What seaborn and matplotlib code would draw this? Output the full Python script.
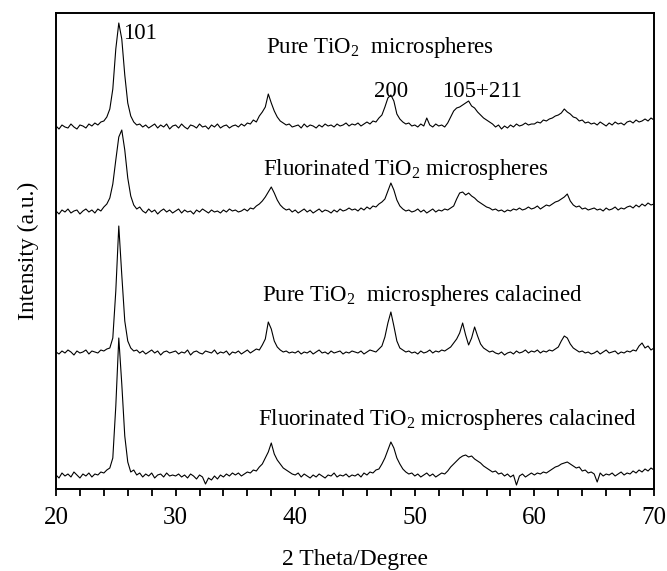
import numpy as np
import pandas as pd
import matplotlib
matplotlib.use("Agg")
import matplotlib.pyplot as plt
import seaborn as sns

# ---------------- data ----------------
two_theta = np.arange(20.0, 70.001, 0.25)   # sampling grid, degrees

pure = [
    1, -2, 2, 0, -1, 3, 0, -2, 2, 1, -1, 3, 1, 4, 2, 5, 6, 10, 18, 38,
    78, 104, 88, 52, 24, 11, 5, 2, 3, 0, 2, -1, 1, 3, -1, 2, 0, 3, -2, 1,
    2, -1, 3, 0, -2, 2, 1, -1, 3, 0, 1, -2, 2, 0, 3, -1, 1, 2, -1, 1,
    2, 0, 3, 1, 4, 3, 7, 5, 11, 15, 20, 33, 24, 16, 10, 6, 4, 2, 3, 0,
    1, 2, -1, 3, 0, 2, 1, -1, 2, 0, 3, 1, 2, 0, 3, 1, 2, 4, 1, 3,
    2, 4, 1, 3, 5, 3, 6, 5, 9, 12, 20, 29, 32, 26, 13, 8, 5, 3, 4, 1,
    2, 0, 3, 1, 9, 2, 0, 3, 1, 2, 0, 4, 10, 16, 19, 20, 22, 24, 26, 21,
    19, 15, 12, 9, 7, 5, 3, 0, 2, -2, 1, -1, 2, 0, 3, 1, 2, 4, 2, 3,
    3, 5, 4, 7, 6, 8, 9, 11, 12, 14, 18, 15, 13, 10, 9, 6, 7, 4, 5, 3,
    4, 2, 5, 3, 1, 4, 2, 5, 3, 4, 2, 5, 6, 4, 7, 5, 6, 8, 6, 9,
    7,
]

fluorinated = [
    1, -2, 2, 0, 3, -1, 1, 2, -2, 1, 3, 0, 2, -1, 3, 1, 5, 8, 14, 28,
    52, 75, 82, 62, 34, 16, 7, 3, 5, 1, -1, 3, 0, 2, -2, 1, 3, 0, 2, -1,
    1, 3, -1, 2, 0, 1, -2, 2, 0, 3, 1, -1, 2, 0, 1, -1, 2, 0, 3, 1,
    2, 0, 1, 3, 1, 4, 3, 6, 8, 11, 15, 20, 25, 19, 12, 7, 4, 2, 3, 0,
    2, -1, 1, 3, 0, 2, -1, 1, 3, 0, 2, 1, -1, 2, 0, 3, 1, 2, 4, 2,
    3, 1, 4, 2, 5, 3, 6, 5, 8, 10, 13, 21, 29, 22, 12, 6, 3, 1, 2, 0,
    1, 3, 0, 2, -1, 1, 3, 0, 2, 1, 3, 2, 4, 6, 13, 19, 20, 17, 19, 16,
    14, 11, 9, 7, 5, 4, 2, 3, 1, 2, 0, 2, 1, 3, 2, 4, 2, 3, 5, 3,
    4, 6, 3, 5, 7, 6, 8, 10, 11, 13, 15, 18, 11, 7, 5, 6, 3, 4, 2, 3,
    4, 2, 3, 1, 4, 2, 3, 5, 2, 4, 3, 5, 6, 4, 7, 5, 8, 6, 9, 7,
    8,
]

pure_calcined = [
    1, -1, 2, 0, 3, 1, -2, 2, 0, 1, 3, -1, 2, 1, 0, 3, 2, 4, 5, 15,
    62, 127, 78, 32, 12, 5, 2, 3, 0, 2, -1, 1, 3, 0, 2, -2, 1, 2, 0, 1,
    2, -1, 1, 0, 3, -2, 1, 2, 0, -1, 2, 1, 0, 3, -1, 1, 0, 2, -2, 1,
    0, 2, -1, 1, 3, 0, 2, 4, 3, 8, 14, 31, 24, 12, 6, 3, 1, 2, 0, 1,
    0, 2, -1, 1, 0, 2, -1, 1, 3, 0, 1, -1, 2, 0, 1, 2, -1, 1, 0, 2,
    1, 0, 2, -1, 1, 3, 2, 1, 4, 7, 16, 30, 41, 27, 12, 5, 3, 1, 2, 0,
    1, -1, 2, 0, 1, 3, 0, 2, 1, 3, 2, 4, 6, 10, 14, 20, 30, 18, 8, 15,
    26, 17, 9, 5, 3, 1, 2, 0, -1, 1, -2, 0, 1, -1, 2, 0, 1, 3, 0, 2,
    1, 3, 0, 2, 1, 3, 2, 4, 6, 12, 17, 15, 9, 5, 3, 1, 2, 0, 1, -1,
    0, 2, -1, 1, 3, 0, 1, 2, -1, 1, 0, 2, 1, 3, 2, 7, 10, 5, 7, 3,
    5,
]

fluorinated_calcined = [
    1, -2, 3, 0, 2, -1, 4, 1, -2, 2, 0, 3, -1, 2, 1, 4, 3, 6, 8, 18,
    70, 138, 92, 40, 14, 4, 6, 1, 3, -1, 2, 0, 3, -2, 1, 2, -1, 3, 0, 1,
    0, 2, -1, 1, -2, 2, 0, -3, 1, -1, -8, -2, -4, 0, -3, 1, -1, 2, 0, 3,
    1, 3, 0, 2, 4, 3, 6, 5, 9, 12, 18, 24, 33, 22, 16, 12, 8, 6, 4, 2,
    1, 3, -1, 2, 0, -2, 1, -1, 2, 0, -2, 1, 0, 3, -1, 1, 0, 2, -1, 1,
    0, 2, -1, 3, 1, 4, 3, 6, 7, 12, 18, 26, 34, 28, 18, 12, 7, 4, 2, 3,
    0, 2, -1, 1, 3, 0, 2, -1, 1, 3, 2, 5, 9, 12, 15, 18, 20, 21, 19, 20,
    17, 15, 13, 10, 8, 6, 4, 5, 2, 3, 0, 2, -1, 1, -9, 0, 2, -1, 1, 3,
    1, 3, 2, 4, 3, 5, 7, 9, 10, 12, 13, 14, 12, 10, 8, 9, 5, 6, 3, 4,
    2, -6, 3, 0, 2, 1, 3, 0, 2, 4, 1, 3, 2, 5, 3, 6, 4, 7, 5, 8,
    6,
]

series_names = [
    "Pure TiO$_\\mathregular{2}$  microspheres",
    "Fluorinated TiO$_\\mathregular{2}$ microspheres",
    "Pure TiO$_\\mathregular{2}$  microspheres calacined",
    "Fluorinated TiO$_\\mathregular{2}$ microspheres calacined",
]
series_values = [pure, fluorinated, pure_calcined, fluorinated_calcined]
stack_offsets = [362, 277, 136, 13]

label_x = [37.6, 37.3, 37.2, 36.9]
label_y = [436, 314, 188, 64]

peak_labels = ["101", "200", "105+211"]
peak_label_x = [25.6, 46.55, 52.25]
peak_label_y = [450, 392, 392]

x_ticks = [20, 30, 40, 50, 60, 70]

# ---------------- plotting ----------------
sns.set_theme(style="ticks")
plt.rcParams["font.family"] = ["Liberation Serif", "DejaVu Serif"]
plt.rcParams["mathtext.fontset"] = "custom"
plt.rcParams["mathtext.rm"] = "Liberation Serif"

fig = plt.figure(figsize=(6.67, 5.71), dpi=100)
ax = fig.add_axes([56 / 667, 82 / 571, 598 / 667, 476 / 571])

frames = []
for name, vals, off in zip(series_names, series_values, stack_offsets):
    frames.append(pd.DataFrame({"two_theta": two_theta,
                                "intensity": np.asarray(vals, float) + off,
                                "sample": name}))
df = pd.concat(frames, ignore_index=True)

sns.lineplot(data=df, x="two_theta", y="intensity", units="sample",
             estimator=None, color="black", linewidth=0.8, ax=ax,
             legend=False, sort=False)

for name, lx, ly in zip(series_names, label_x, label_y):
    ax.text(lx, ly, name, fontsize=16.5, ha="left", va="baseline", color="black")
for t, lx, ly in zip(peak_labels, peak_label_x, peak_label_y):
    ax.text(lx, ly, t, fontsize=16.5, ha="left", va="baseline", color="black")

ax.set_xlim(20, 70)
ax.set_ylim(0, 476)
ax.set_xticks(x_ticks)
ax.set_xticks(np.arange(20, 71, 2), minor=True)
ax.set_yticks([])
ax.tick_params(axis="x", which="both", direction="out", length=5,
               width=1.3, color="black", labelsize=18, pad=8,
               labelcolor="black")
for s in ax.spines.values():
    s.set_visible(True)
    s.set_linewidth(1.4)
    s.set_color("black")

ax.set_xlabel("2 Theta/Degree", fontsize=17, labelpad=14, color="black")
ax.set_ylabel("Intensity (a.u.)", fontsize=17, labelpad=12, color="black")

fig.savefig("out.png", dpi=100)
